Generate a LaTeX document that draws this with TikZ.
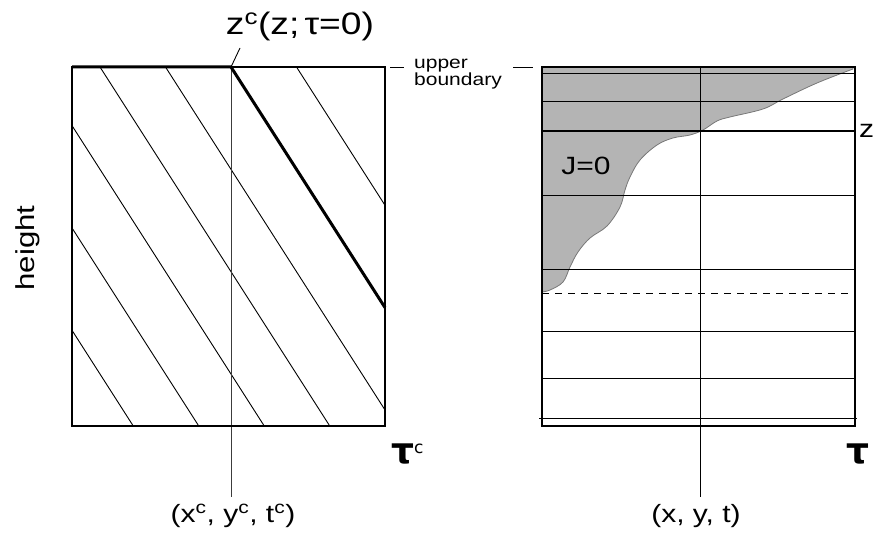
\documentclass[tikz,border=0pt]{standalone}
\usepackage{fontspec}
\setmainfont{Liberation Sans}[FakeStretch=1.2]
\newfontfamily\taufont{DejaVu Sans}
\definecolor{fillg}{RGB}{180,180,180}
\definecolor{edgeg}{RGB}{120,120,120}
\definecolor{axisg}{RGB}{60,60,60}
\begin{document}
\begin{tikzpicture}[x=1pt,y=-1pt,
  thinline/.style={line width=0.9pt,black},
  boxline/.style={line width=2.2pt,black},
  heavyline/.style={line width=3pt,black},
  axisline/.style={line width=0.9pt,axisg},
  lbl/.style={inner sep=0pt,font=\fontsize{25}{30}\selectfont},
  toplbl/.style={inner sep=0pt,font=\fontsize{31}{34}\selectfont},
  biglbl/.style={inner sep=0pt,font=\fontsize{25}{30}\selectfont},
  taulbl/.style={inner sep=0pt,font=\fontsize{36}{40}\selectfont\taufont\bfseries},
  smalllbl/.style={inner sep=0pt,font=\fontsize{17.5}{16}\selectfont}]
\useasboundingbox (0,0) rectangle (875,534);

% ---------- left panel ----------
\coordinate (LA) at (72,67);
\coordinate (LB) at (385,426);
\coordinate (LP) at (231,67);
\coordinate (LQ) at (385,307.6);
\coordinate (LBot) at (231,497);
\begin{scope}
  \clip (LA) rectangle (LB);
  \foreach \k in {-1,1,2,3,4,5}
    \draw[thinline] ({231-65.5*\k},67) -- ++(400,625);
\end{scope}
\draw[axisline] (LP) -- (LBot);
\draw[heavyline] (LA) -- (LP) -- (LQ);
\draw[boxline] (LA) rectangle (LB);

\node[toplbl] (zc) at (300,26) {z\textsuperscript{c}(z;\,τ=0)};
\coordinate (zcl) at (240,48);
\draw[thinline] (LP) -- (zcl);

\node[lbl] (xc) at (233,516) {(x\textsuperscript{c}, y\textsuperscript{c}, t\textsuperscript{c})};
\node[taulbl,anchor=base west] (tauc) at (391,463) {τ\textsuperscript{\fontsize{17}{17}\selectfont\mdseries c}};
\node[lbl,rotate=90,font=\fontsize{26}{30}\selectfont] (h) at (28,248) {height};

% ---------- upper boundary label ----------
\node[smalllbl,anchor=base west] (ub1) at (414,69) {upper};
\node[smalllbl,anchor=base west] (ub2) at (414,86) {boundary};
\coordinate (ubl1) at (390,67);
\coordinate (ubl2) at (404,67);
\coordinate (ubr1) at (513,67);
\coordinate (ubr2) at (533,67);
\draw[thinline] (ubl1) -- (ubl2);
\draw[thinline] (ubr1) -- (ubr2);

% ---------- right panel ----------
\coordinate (RA) at (542,67);
\coordinate (RB) at (855,426);
\fill[fillg, draw=edgeg, line width=0.8pt] (542,67) -- (853,67) -- plot[smooth,tension=0.6] coordinates {
  (853,69) (817,83) (783,99) (763,109) (730,117) (717,121) (703,130) (690,135)
  (673,138) (657,145) (640,160) (630,177) (625,190) (620,207) (607,226)
  (590,238) (578,252) (570,267) (563,282) (550,290) (542,292)} -- cycle;

\foreach \yy in {73,101,195,269,331,378}
  \draw[thinline] (542,\yy) -- (855,\yy);
\draw[thinline] (539,418) -- (857,418);
\draw[thinline,dashed,dash pattern=on 7pt off 6pt] (542,293) -- (850,293);
\draw[boxline] (542,131) -- (855,131);
\coordinate (RP) at (700,67);
\coordinate (RBot) at (700,497);
\draw[thinline] (RP) -- (RBot);
\draw[boxline] (RA) rectangle (RB);

\node[biglbl] (j0) at (586,166) {J=0};
\node[lbl,anchor=base west] (zl) at (859,138) {z};
\node[taulbl,anchor=base west] (tau) at (846,463) {τ};
\node[lbl] (xyt) at (696,516) {(x, y, t)};
\end{tikzpicture}
\end{document}
